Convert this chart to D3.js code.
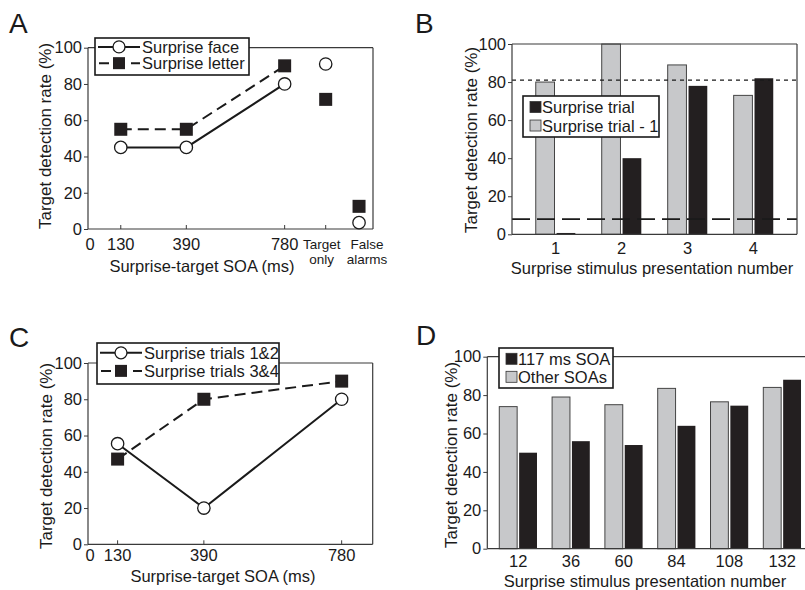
<!DOCTYPE html>
<html><head><meta charset="utf-8">
<script src="https://cdn.jsdelivr.net/npm/d3@7"></script>
<style>
body{margin:0;background:#fff;}
svg{display:block;font-family:"Liberation Sans",Arial,Helvetica,sans-serif;}
</style></head>
<body><svg id="c" width="805" height="590"></svg>
<script>
// ---------- DATA ----------
const yTicks = [0, 20, 40, 60, 80, 100];

// Panel A
const soaA = [130, 390, 780];
const soaTickLabelsA = [0, 130, 390, 780];
const faceA = [45, 45, 80];
const letterA = [55, 55, 90];
const extraCatsA = ["Target only", "False alarms"];
const faceExtraA = [91, 3.5];
const letterExtraA = [71.5, 12.5];

// Panel B
const presB = ["1", "2", "3", "4"];
const surpriseB = [0.7, 40, 78, 82];
const surpriseMinus1B = [80, 100, 89, 73];
const refHighB = 81;
const refLowB = 8;

// Panel C
const soaC = [130, 390, 780];
const soaTickLabelsC = [0, 130, 390, 780];
const trials12C = [55.5, 20, 80];
const trials34C = [47, 80, 90];

// Panel D
const presD = ["12", "36", "60", "84", "108", "132"];
const soa117D = [50, 56, 54, 64, 74.5, 88];
const otherD = [74, 79, 75, 83.5, 76.5, 84];

// ---------- STYLE ----------
const FRAME = "#3a3a3a", INK = "#1a1a1a", GRAY = "#c7c8ca", BLACK = "#231f20";
const svg = d3.select("#c");

function yAxis(g, y, x0){
  const ax = g.append("g").attr("transform", `translate(${x0},0)`)
    .call(d3.axisLeft(y).tickValues(yTicks).tickSize(4).tickPadding(2));
  ax.select(".domain").remove();
  ax.selectAll("line").attr("stroke", FRAME);
  ax.selectAll("text").attr("font-size", 16.5).attr("fill", INK).attr("font-family", null);
}
function frame(g, f, sides){
  const s = sides || {t:1,r:1,b:1,l:1};
  const seg = (x1,y1,x2,y2)=>g.append("line").attr("x1",x1).attr("y1",y1).attr("x2",x2).attr("y2",y2)
    .attr("stroke",FRAME).attr("stroke-width",1.2);
  if(s.t) seg(f.l,f.t,f.r,f.t);
  if(s.r) seg(f.r,f.t,f.r,f.b);
  if(s.b) seg(f.l,f.b,f.r,f.b);
  if(s.l) seg(f.l,f.t,f.l,f.b);
}
function yTitle(g, x, yc){
  g.append("text").attr("transform",`translate(${x},${yc}) rotate(-90)`)
    .attr("text-anchor","middle").attr("dominant-baseline","central")
    .attr("font-size",17).attr("fill",INK).text("Target detection rate (%)");
}
function panelLetter(x, y, t){
  svg.append("text").attr("x",x).attr("y",y).attr("font-size",28).attr("fill",INK).text(t);
}
function squareMarker(g, cx, cy, s){
  g.append("rect").attr("x",cx-s/2).attr("y",cy-s/2).attr("width",s).attr("height",s).attr("fill",BLACK);
}
function circleMarker(g, cx, cy, r){
  g.append("circle").attr("cx",cx).attr("cy",cy).attr("r",r).attr("fill","#fff").attr("stroke",INK).attr("stroke-width",1.3);
}
function lineLegend(g, box, labels){
  g.append("rect").attr("x",box.x).attr("y",box.y).attr("width",box.w).attr("height",box.h)
    .attr("fill","#fff").attr("stroke",INK).attr("stroke-width",1.6);
  const rows = [box.y + box.h*0.24, box.y + box.h*0.68];
  const x1 = box.x+3, x2 = box.x+45, xm = (x1+x2)/2;
  g.append("line").attr("x1",x1).attr("x2",x2).attr("y1",rows[0]).attr("y2",rows[0]).attr("stroke",INK).attr("stroke-width",2);
  circleMarker(g, xm, rows[0], 6);
  g.append("line").attr("x1",x1).attr("x2",x2).attr("y1",rows[1]).attr("y2",rows[1]).attr("stroke",INK).attr("stroke-width",2)
    .attr("stroke-dasharray","10,6").attr("stroke-dashoffset",-1);
  squareMarker(g, xm, rows[1], 12);
  labels.forEach((t,i)=>g.append("text").attr("x",x2+2).attr("y",rows[i]).attr("dominant-baseline","central")
    .attr("font-size",16.5).attr("fill",INK).text(t));
}
function barLegend(g, box, labels, fills){
  g.append("rect").attr("x",box.x).attr("y",box.y).attr("width",box.w).attr("height",box.h)
    .attr("fill","#fff").attr("stroke",INK).attr("stroke-width",1.6);
  const rows = [box.y + box.h*0.27, box.y + box.h*0.72];
  labels.forEach((t,i)=>{
    g.append("rect").attr("x",box.x+7).attr("y",rows[i]-5.5).attr("width",11).attr("height",11)
      .attr("fill",fills[i]).attr("stroke","#333").attr("stroke-width",0.8);
    g.append("text").attr("x",box.x+19).attr("y",rows[i]).attr("dominant-baseline","central")
      .attr("font-size",16.5).attr("fill",INK).text(t);
  });
}
const lineGen = (x,y)=>d3.line().x(d=>x(d[0])).y(d=>y(d[1]));

// ---------- PANEL A ----------
(function(){
  const f = {l:88, r:373, t:47.7, b:229};
  const g = svg.append("g");
  const w = f.r - f.l;
  const x = d3.scaleLinear().domain([0, 780]).range([f.l, f.l + w*0.69]);
  const xc = d3.scalePoint().domain(extraCatsA).range([f.l + w*0.834, f.l + w*0.951]);
  const y = d3.scaleLinear().domain([0, 100]).range([f.b, f.t]);
  frame(g, f);
  yAxis(g, y, f.l);
  const tickPos = soaA.map(v=>x(v)).concat(extraCatsA.map(c=>xc(c)));
  tickPos.forEach(p=>g.append("line").attr("x1",p).attr("x2",p).attr("y1",f.b).attr("y2",f.b-4).attr("stroke",FRAME));
  soaTickLabelsA.forEach(v=>g.append("text").attr("x",x(v)+(v===0?2:0)).attr("y",f.b+21).attr("text-anchor","middle")
    .attr("font-size",16.5).attr("fill",INK).text(v));
  const dxCat = [-4, 8];
  extraCatsA.forEach((c,i)=>{
    c.split(" ").forEach((p,j)=>g.append("text").attr("x",xc(c)+dxCat[i]).attr("y",f.b+20+j*15)
      .attr("text-anchor","middle").attr("font-size",13.5).attr("fill",INK).text(p));
  });
  g.append("text").attr("x",202).attr("y",f.b+43).attr("text-anchor","middle")
    .attr("font-size",16.5).attr("fill",INK).text("Surprise-target SOA (ms)");
  yTitle(g, 45, 136);
  g.append("path").datum(soaA.map((s,i)=>[s,letterA[i]])).attr("d",lineGen(x,y))
    .attr("fill","none").attr("stroke",INK).attr("stroke-width",2).attr("stroke-dasharray","11,6");
  g.append("path").datum(soaA.map((s,i)=>[s,faceA[i]])).attr("d",lineGen(x,y))
    .attr("fill","none").attr("stroke",INK).attr("stroke-width",2);
  soaA.forEach((s,i)=>{ squareMarker(g, x(s), y(letterA[i]), 13); circleMarker(g, x(s), y(faceA[i]), 6.2); });
  extraCatsA.forEach((c,i)=>{ squareMarker(g, xc(c), y(letterExtraA[i]), 13); circleMarker(g, xc(c), y(faceExtraA[i]), 6.2); });
  lineLegend(g, {x:95, y:38, w:154, h:37}, ["Surprise face", "Surprise letter"]);
  panelLetter(9, 33, "A");
})();

// ---------- PANEL B ----------
(function(){
  const f = {l:512, r:797, t:44, b:234.3};
  const g = svg.append("g");
  const x = d3.scaleBand().domain(presB).range([f.l, f.r]).paddingInner(0.4).paddingOuter(0.36);
  const xs = d3.scaleBand().domain(["prev","surp"]).range([0, x.bandwidth()]).paddingInner(0.1);
  const y = d3.scaleLinear().domain([0, 100]).range([f.b, f.t]);
  presB.forEach((p,i)=>{
    g.append("rect").attr("x",x(p)+xs("prev")).attr("y",y(surpriseMinus1B[i])).attr("width",xs.bandwidth())
      .attr("height",y(0)-y(surpriseMinus1B[i])).attr("fill",GRAY).attr("stroke","#444").attr("stroke-width",1);
    g.append("rect").attr("x",x(p)+xs("surp")).attr("y",y(surpriseB[i])).attr("width",xs.bandwidth())
      .attr("height",y(0)-y(surpriseB[i])).attr("fill",BLACK);
  });
  g.append("line").attr("x1",f.l).attr("x2",f.r).attr("y1",y(refHighB)).attr("y2",y(refHighB))
    .attr("stroke",INK).attr("stroke-width",1.4).attr("stroke-dasharray","4,4");
  g.append("line").attr("x1",f.l).attr("x2",f.r).attr("y1",y(refLowB)).attr("y2",y(refLowB))
    .attr("stroke",INK).attr("stroke-width",1.6).attr("stroke-dasharray","18,7");
  frame(g, f);
  yAxis(g, y, f.l);
  presB.forEach(p=>g.append("text").attr("x",x(p)+x.bandwidth()/2).attr("y",f.b+20).attr("text-anchor","middle")
    .attr("font-size",16.5).attr("fill",INK).text(p));
  g.append("text").attr("x",652).attr("y",f.b+40).attr("text-anchor","middle")
    .attr("font-size",16.5).attr("fill",INK).text("Surprise stimulus presentation number");
  yTitle(g, 471, 140);
  barLegend(g, {x:523, y:96, w:136, h:41}, ["Surprise trial","Surprise trial - 1"], [BLACK, GRAY]);
  panelLetter(415, 33, "B");
})();

// ---------- PANEL C ----------
(function(){
  const f = {l:88, r:372.7, t:363, b:544.3};
  const g = svg.append("g");
  const w = f.r - f.l;
  const x = d3.scaleLinear().domain([0, 130, 390, 780]).range([f.l, f.l + w*0.104, f.l + w*0.407, f.l + w*0.891]);
  const y = d3.scaleLinear().domain([0, 100]).range([f.b, f.t]);
  frame(g, f);
  yAxis(g, y, f.l);
  soaC.forEach(v=>g.append("line").attr("x1",x(v)).attr("x2",x(v)).attr("y1",f.b).attr("y2",f.b-4).attr("stroke",FRAME));
  soaTickLabelsC.forEach(v=>g.append("text").attr("x",x(v)+(v===0?2:0)).attr("y",f.b+17).attr("text-anchor","middle")
    .attr("font-size",16.5).attr("fill",INK).text(v));
  g.append("text").attr("x",223).attr("y",f.b+38).attr("text-anchor","middle")
    .attr("font-size",16.5).attr("fill",INK).text("Surprise-target SOA (ms)");
  yTitle(g, 46, 456);
  g.append("path").datum(soaC.map((s,i)=>[s,trials34C[i]])).attr("d",lineGen(x,y))
    .attr("fill","none").attr("stroke",INK).attr("stroke-width",2).attr("stroke-dasharray","11,6");
  g.append("path").datum(soaC.map((s,i)=>[s,trials12C[i]])).attr("d",lineGen(x,y))
    .attr("fill","none").attr("stroke",INK).attr("stroke-width",2);
  soaC.forEach((s,i)=>{ circleMarker(g, x(s), y(trials12C[i]), 6.2); squareMarker(g, x(s), y(trials34C[i]), 13); });
  lineLegend(g, {x:97, y:343, w:182, h:41}, ["Surprise trials 1&2", "Surprise trials 3&4"]);
  panelLetter(9, 347, "C");
})();

// ---------- PANEL D ----------
(function(){
  const f = {l:487.3, r:813, t:356.7, b:548.7};
  const g = svg.append("g");
  const x = d3.scaleBand().domain(presD).range([f.l, f.r]).paddingInner(0.286).paddingOuter(0.227);
  const xs = d3.scaleBand().domain(["other","s117"]).range([0, x.bandwidth()]).paddingInner(0.1);
  const y = d3.scaleLinear().domain([0, 100]).range([f.b, f.t]);
  presD.forEach((p,i)=>{
    g.append("rect").attr("x",x(p)+xs("other")).attr("y",y(otherD[i])).attr("width",xs.bandwidth())
      .attr("height",y(0)-y(otherD[i])).attr("fill",GRAY).attr("stroke","#444").attr("stroke-width",1);
    g.append("rect").attr("x",x(p)+xs("s117")).attr("y",y(soa117D[i])).attr("width",xs.bandwidth())
      .attr("height",y(0)-y(soa117D[i])).attr("fill",BLACK);
  });
  frame(g, f, {t:1,b:1,l:1,r:0});
  yAxis(g, y, f.l);
  presD.forEach(p=>g.append("text").attr("x",x(p)+x.bandwidth()/2).attr("y",f.b+18).attr("text-anchor","middle")
    .attr("font-size",16.5).attr("fill",INK).text(p));
  g.append("text").attr("x",645).attr("y",f.b+38).attr("text-anchor","middle")
    .attr("font-size",16.5).attr("fill",INK).text("Surprise stimulus presentation number");
  yTitle(g, 451, 455);
  barLegend(g, {x:499, y:348, w:114, h:40}, ["117 ms SOA","Other SOAs"], [BLACK, GRAY]);
  panelLetter(416, 345, "D");
})();
</script></body></html>
